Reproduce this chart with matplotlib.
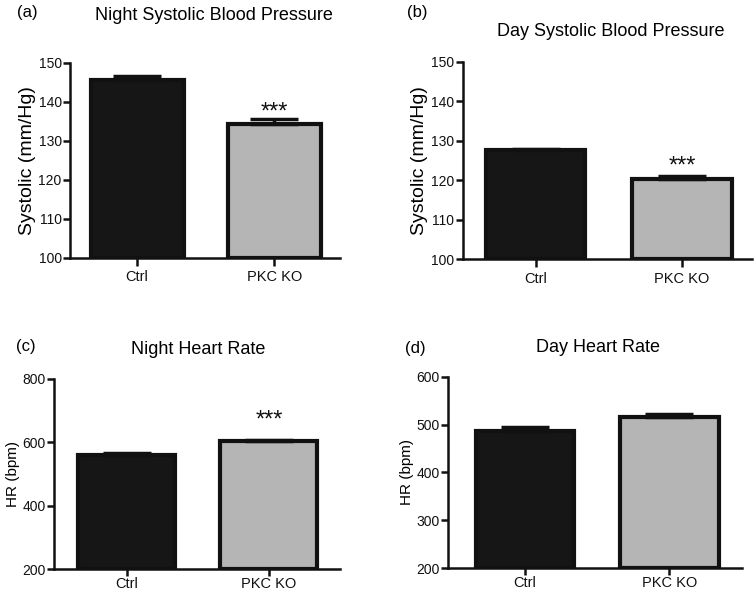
import matplotlib
matplotlib.use("Agg")
import matplotlib.pyplot as plt
import numpy as np

plt.rcParams['font.family'] = ['Liberation Sans', 'DejaVu Sans']

groups = ['Ctrl', 'PKC KO']

titles = ['Night Systolic Blood Pressure', 'Day Systolic Blood Pressure',
          'Night Heart Rate', 'Day Heart Rate']
panel_tags = ['(a)', '(b)', '(c)', '(d)']
ylabels = ['Systolic (mm/Hg)', 'Systolic (mm/Hg)', 'HR (bpm)', 'HR (bpm)']

night_sbp_mean = [145.6, 134.2]
night_sbp_sem = [1.1, 1.3]
day_sbp_mean = [127.6, 120.3]
day_sbp_sem = [0.4, 0.9]
night_hr_mean = [560, 604]
night_hr_sem = [6, 4]
day_hr_mean = [487, 516]
day_hr_sem = [8, 6]

means = [night_sbp_mean, day_sbp_mean, night_hr_mean, day_hr_mean]
sems = [night_sbp_sem, day_sbp_sem, night_hr_sem, day_hr_sem]
ylims = [(100, 150), (100, 150), (200, 800), (200, 600)]
yticks = [np.arange(100, 151, 10), np.arange(100, 151, 10),
          np.arange(200, 801, 200), np.arange(200, 601, 100)]
# significance stars: None = no star
star_y = [137.3, 123.4, 668, None]

W, H = 755, 593
# axes boxes in pixels: left, right, top, bottom
boxes = [(70, 340, 62.7, 258), (462.7, 752, 61.7, 259.3),
         (54, 340, 379, 569.3), (448.3, 741.7, 376.7, 568.3)]
xlims = [(-0.49, 1.48), (-0.50, 1.48), (-0.51, 1.50), (-0.53, 1.50)]
# title and tag positions in pixels (x center, y center)
title_pos = [(214, 15), (611, 31), (198, 350), (598, 348)]
tag_pos = [(17, 12), (407, 12), (16, 347), (405, 348)]
ylabel_size = [14, 14, 11, 11]
xtick_len = [6, 6, 5, 5]
xtick_pad = [3, 3, 0.5, 0.5]

fill_colors = ['#161616', '#b5b5b5']

fig = plt.figure(figsize=(W / 100, H / 100), dpi=100)

for i in range(4):
    l, r, t, b = boxes[i]
    ax = fig.add_axes([l / W, 1 - b / H, (r - l) / W, (b - t) / H])
    x = np.arange(len(groups))
    ax.bar(x, np.array(means[i]) - ylims[i][0], 0.68, bottom=ylims[i][0],
           color=fill_colors, edgecolor='#111111', linewidth=3, zorder=2)
    ax.errorbar(x, means[i], yerr=[np.zeros(2), sems[i]], fmt='none',
                ecolor='#111111', elinewidth=2.5, capsize=17, capthick=2.5,
                zorder=3)
    if star_y[i] is not None:
        ax.text(1, star_y[i], '***', ha='center', va='center', fontsize=17,
                color='#111111')
    ax.set_xlim(*xlims[i])
    ax.set_ylim(*ylims[i])
    ax.set_yticks(yticks[i])
    ax.set_xticks(x)
    ax.set_xticklabels(groups)
    for s in ['top', 'right']:
        ax.spines[s].set_visible(False)
    for s in ['left', 'bottom']:
        ax.spines[s].set_linewidth(1.8)
        ax.spines[s].set_color('#111111')
    ax.tick_params(axis='y', direction='out', length=5, width=1.8,
                   labelsize=10, colors='#111111', pad=1)
    ax.tick_params(axis='x', direction='out', length=xtick_len[i], width=1.8,
                   labelsize=10.5, colors='#111111', pad=xtick_pad[i])
    ax.set_ylabel(ylabels[i], fontsize=ylabel_size[i], labelpad=2)

    fig.text(title_pos[i][0] / W, 1 - title_pos[i][1] / H, titles[i],
             ha='center', va='center', fontsize=13)
    fig.text(tag_pos[i][0] / W, 1 - tag_pos[i][1] / H, panel_tags[i],
             ha='left', va='center', fontsize=12)

fig.savefig('out.png', dpi=100)
plt.close()
